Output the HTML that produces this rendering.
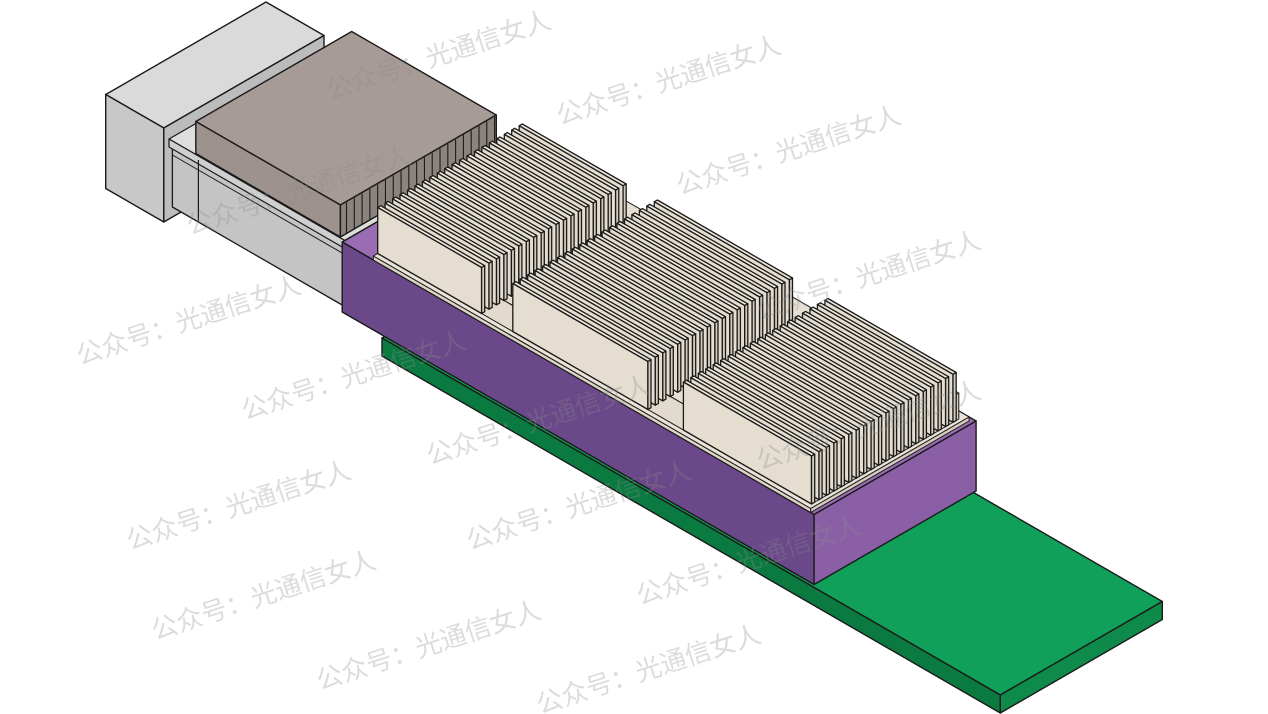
<!DOCTYPE html>
<html><head><meta charset="utf-8"><style>
html,body{margin:0;padding:0;background:#fff;width:1268px;height:714px;overflow:hidden}
svg{display:block}
.wm{font-family:"Liberation Sans","Noto Sans CJK SC",sans-serif;font-size:26px;fill:rgba(140,140,140,0.3)}
</style></head><body>
<svg id="s" width="1268" height="714" viewBox="0 0 1268 714" xmlns="http://www.w3.org/2000/svg">
<g id="g"></g>
<g id="w"></g>
</svg>
<script>
const ox=382, oy=338, g=document.getElementById('g');
function P(L,D,H){return [ox+0.866*(L+D), oy+0.5*(L-D)-H];}
function poly(pts,fill,sw){
  const e=document.createElementNS('http://www.w3.org/2000/svg','polygon');
  e.setAttribute('points',pts.map(p=>p[0].toFixed(1)+','+p[1].toFixed(1)).join(' '));
  e.setAttribute('fill',fill);e.setAttribute('stroke','#1a1a1a');
  e.setAttribute('stroke-width',sw||1.2);e.setAttribute('stroke-linejoin','round');
  g.appendChild(e);
}
function line(a,b,sw,col){
  const e=document.createElementNS('http://www.w3.org/2000/svg','line');
  e.setAttribute('x1',a[0]);e.setAttribute('y1',a[1]);e.setAttribute('x2',b[0]);e.setAttribute('y2',b[1]);
  e.setAttribute('stroke',col||'#1a1a1a');e.setAttribute('stroke-width',sw||1);
  g.appendChild(e);
}
function box(L0,L1,D0,D1,H0,H1,c,sw){
  poly([P(L0,D0,H1),P(L1,D0,H1),P(L1,D1,H1),P(L0,D1,H1)],c[0],sw);
  poly([P(L0,D0,H0),P(L1,D0,H0),P(L1,D0,H1),P(L0,D0,H1)],c[1],sw);
  poly([P(L1,D0,H0),P(L1,D1,H0),P(L1,D1,H1),P(L1,D0,H1)],c[2],sw);
}
box(0,714,0,187,-18,0,['#11a05a','#0b7a40','#0e8a4a'],1.4);
box(-319,-252,0,185,-10,84,['#dadada','#c8c8c8','#bcbcbc'],1.4);
box(-252,-49,10,178,0,66,['#d0d0d0','#c4c4c4','#b8b8b8'],1.3);
box(-252,-49,6,180,62,70,['#dedede','#cfcfcf','#c0c0c0'],1.2);
line(P(-222,10,0),P(-222,10,62),1.2);
line(P(-252,10,52),P(-49,10,52),1);
box(-220,-53,5,185,72,104,['#a69b96','#9d928d','#8d837e'],1.4);
for(let d=12; d<185; d+=9){ line(P(-53,d,103),P(-53,d,72),1.1); }
box(-49,496,3,190,0,70,['#9a6cb3','#6b4889','#8a5fa6'],1.4);
box(-13,492,3,186,70,74,['#e9e3d8','#ddd5c8','#d3cbbd'],1);
box(-13,488,8,178,74,100,['#e6dfd3','#e2dacd','#d4ccbe'],1);
const hs=[[-13,107,120],[143,299,122],[340,488,122]];
for(const h of hs){
  for(let i=19;i>=0;i--){
    const d=8+i*8.6;
    box(h[0],h[1],d,d+3.6,74,h[2],['#ece6db','#e4ddd0','#d2cabc'],1.3);
  }
}
const wm=[[330,100],[560,125],[680,195],[190,235],[80,365],[245,420],[430,465],[130,550],[470,550],[155,640],[640,605],[320,690],[540,714],[760,470],[760,320]];
const w=document.getElementById('w');
for(const p of wm){
  const t=document.createElementNS('http://www.w3.org/2000/svg','text');
  t.setAttribute('x',p[0]);t.setAttribute('y',p[1]);t.setAttribute('class','wm');
  t.setAttribute('transform','rotate(-18 '+p[0]+' '+p[1]+')');
  t.textContent='公众号：光通信女人';
  w.appendChild(t);
}
</script>
</body></html>
